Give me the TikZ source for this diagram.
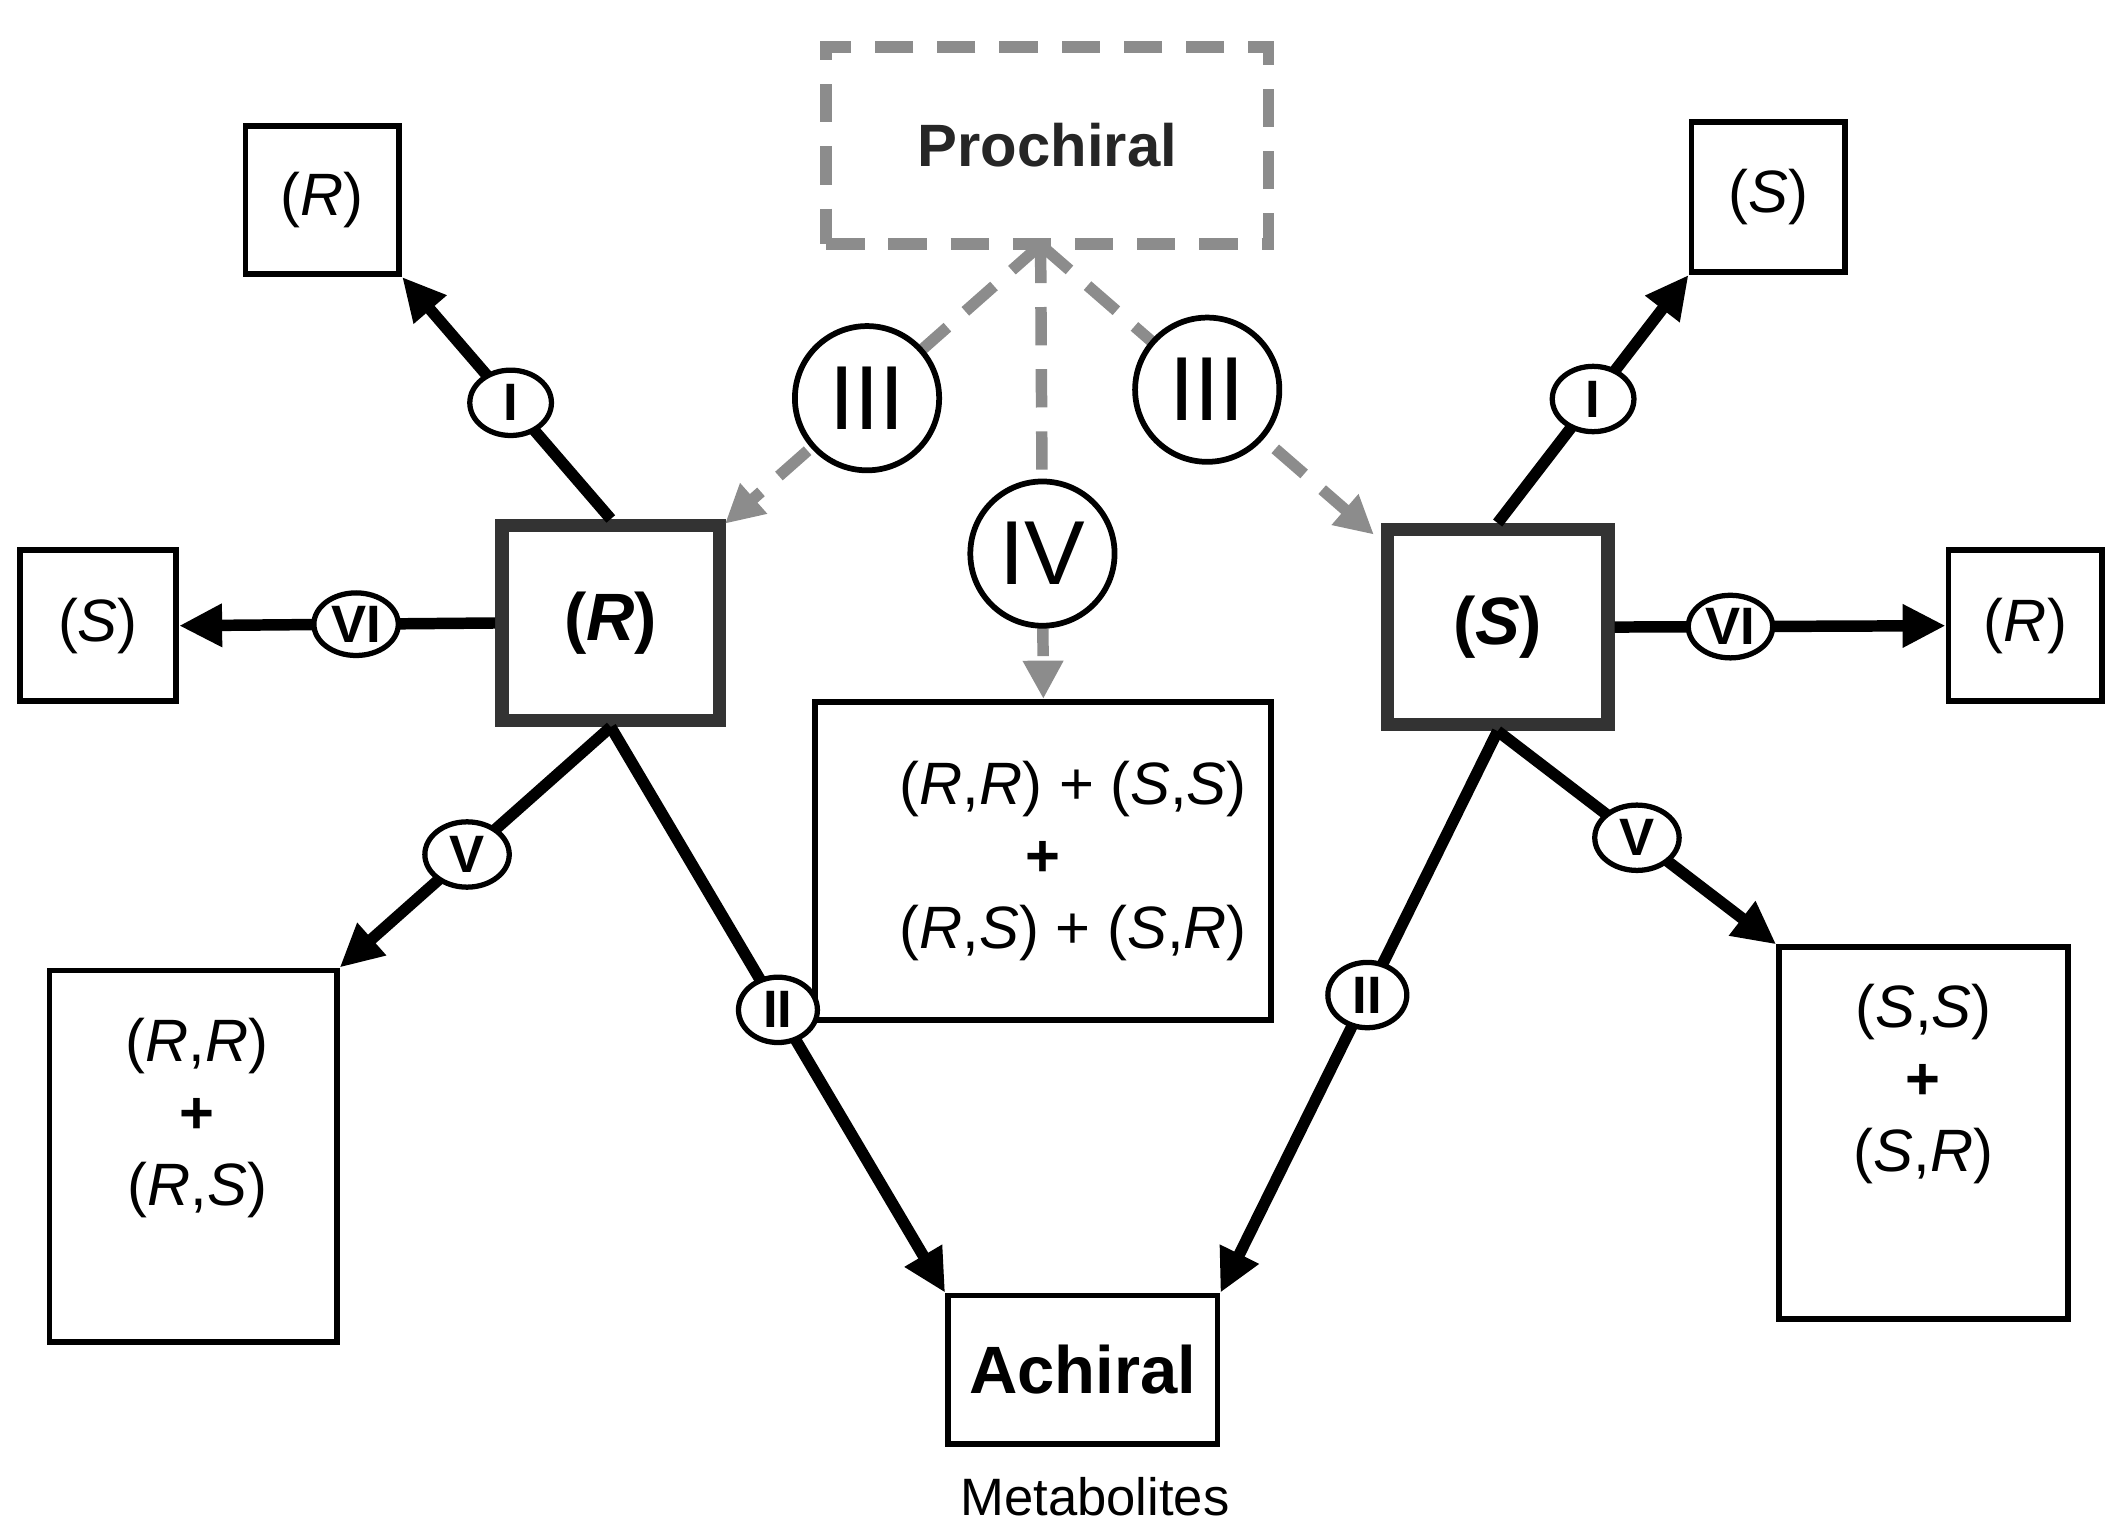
\documentclass[tikz,border=0pt]{standalone}
\usepackage{fontspec}
\setmainfont{Liberation Sans}
\usetikzlibrary{arrows.meta,shapes.geometric}
\begin{document}
\begin{tikzpicture}[x=0.01cm,y=-0.01cm,
 box/.style={draw,line width=1.2pt,inner sep=0,align=center,font=\fontsize{12.5}{15}\selectfont},
 big/.style={draw=black!80,line width=2.8pt,inner sep=0,font=\fontsize{14}{16}\selectfont\bfseries},
 lab/.style={draw,fill=white,ellipse,line width=1.1pt,inner sep=0,minimum width=0.6cm,minimum height=0.48cm,font=\fontsize{11}{12}\selectfont\bfseries},
 arr/.style={line width=2.4pt,-{Triangle[length=9pt,width=8.5pt]}},
 garr/.style={draw=black!45,line width=2.4pt,dash pattern=on 8pt off 5pt,-{Triangle[length=8pt,width=8pt]}},
 rom/.style={circle,draw=black,fill=white,solid,line width=1.2pt,minimum size=1.06cm,inner sep=0,font=\fontsize{19}{20}\selectfont,text=black}]
\useasboundingbox (0,0) rectangle (1560,1128);
\node[draw=black!45,line width=2.4pt,dash pattern=on 8pt off 5pt,minimum width=3.25cm,minimum height=1.45cm,font=\fontsize{12.5}{15}\selectfont\bfseries,text=black!85] (P) at (770,107) {Prochiral};
\node[box,minimum width=1.13cm,minimum height=1.09cm] (Rt) at (237,147) {(\textit{R})};
\node[box,minimum width=1.15cm,minimum height=1.11cm] (Sl) at (72,460) {(\textit{S})};
\node[big,minimum width=1.6cm,minimum height=1.43cm] (R) at (449,458) {(\textit{R})};
\node[big,minimum width=1.62cm,minimum height=1.43cm] (S) at (1101,461) {(\textit{S})};
\node[box,minimum width=3.35cm,minimum height=2.34cm] (C) at (767,633) {\quad(\textit{R},\textit{R}) + (\textit{S},\textit{S})\\ \textbf{+}\\ \quad(\textit{R},\textit{S}) + (\textit{S},\textit{R})};
\node[box,minimum width=1.13cm,minimum height=1.1cm] (St) at (1300,145) {(\textit{S})};
\node[box,minimum width=1.13cm,minimum height=1.11cm] (Rr) at (1489,460) {(\textit{R})};
\node[box,minimum width=2.11cm,minimum height=2.73cm] (LB) at (142,850) {};
\node[align=center,font=\fontsize{12.5}{15}\selectfont,inner sep=0] (LBt) at (145,822) {(\textit{R},\textit{R})\\ \textbf{+}\\ (\textit{R},\textit{S})};
\node[box,minimum width=2.12cm,minimum height=2.73cm] (RB) at (1414,833) {(\textit{S},\textit{S})\\ \textbf{+}\\ (\textit{S},\textit{R})\\[8pt]};
\node[box,minimum width=1.98cm,minimum height=1.09cm,font=\fontsize{14}{16}\selectfont\bfseries] (A) at (796,1007) {Achiral};
\node[font=\fontsize{11}{13}\selectfont] (M) at (805,1100) {Metabolites};
\coordinate (Pb) at (765,180);
\draw[garr] (Pb) -- (533,385) node[rom,pos=0.55]{III};
\draw[garr] (Pb) -- (1010,393) node[rom,pos=0.5]{III};
\draw[garr] (Pb) -- (C.north) node[rom,pos=0.68]{IV};
\draw[arr] (R.north) -- (Rt.south east) node[lab,pos=0.48]{I};
\draw[arr] (R.west) -- (Sl.east) node[lab,pos=0.44,minimum width=0.62cm,minimum height=0.46cm]{VI};
\draw[arr] (R.south) -- (LB.north east) node[lab,pos=0.53,minimum width=0.62cm]{V};
\draw[arr] (R.south) -- (A.north west) node[lab,pos=0.5,minimum width=0.58cm]{II};
\draw[arr] (S.north) -- (St.south west) node[lab,pos=0.5]{I};
\draw[arr] (S.east) -- (Rr.west) node[lab,pos=0.35,minimum width=0.62cm,minimum height=0.46cm]{VI};
\draw[arr] (S.south) -- (RB.north west) node[lab,pos=0.5,minimum width=0.62cm]{V};
\draw[arr] (S.south) -- (A.north east) node[lab,pos=0.47,minimum width=0.58cm]{II};
\end{tikzpicture}
\end{document}
